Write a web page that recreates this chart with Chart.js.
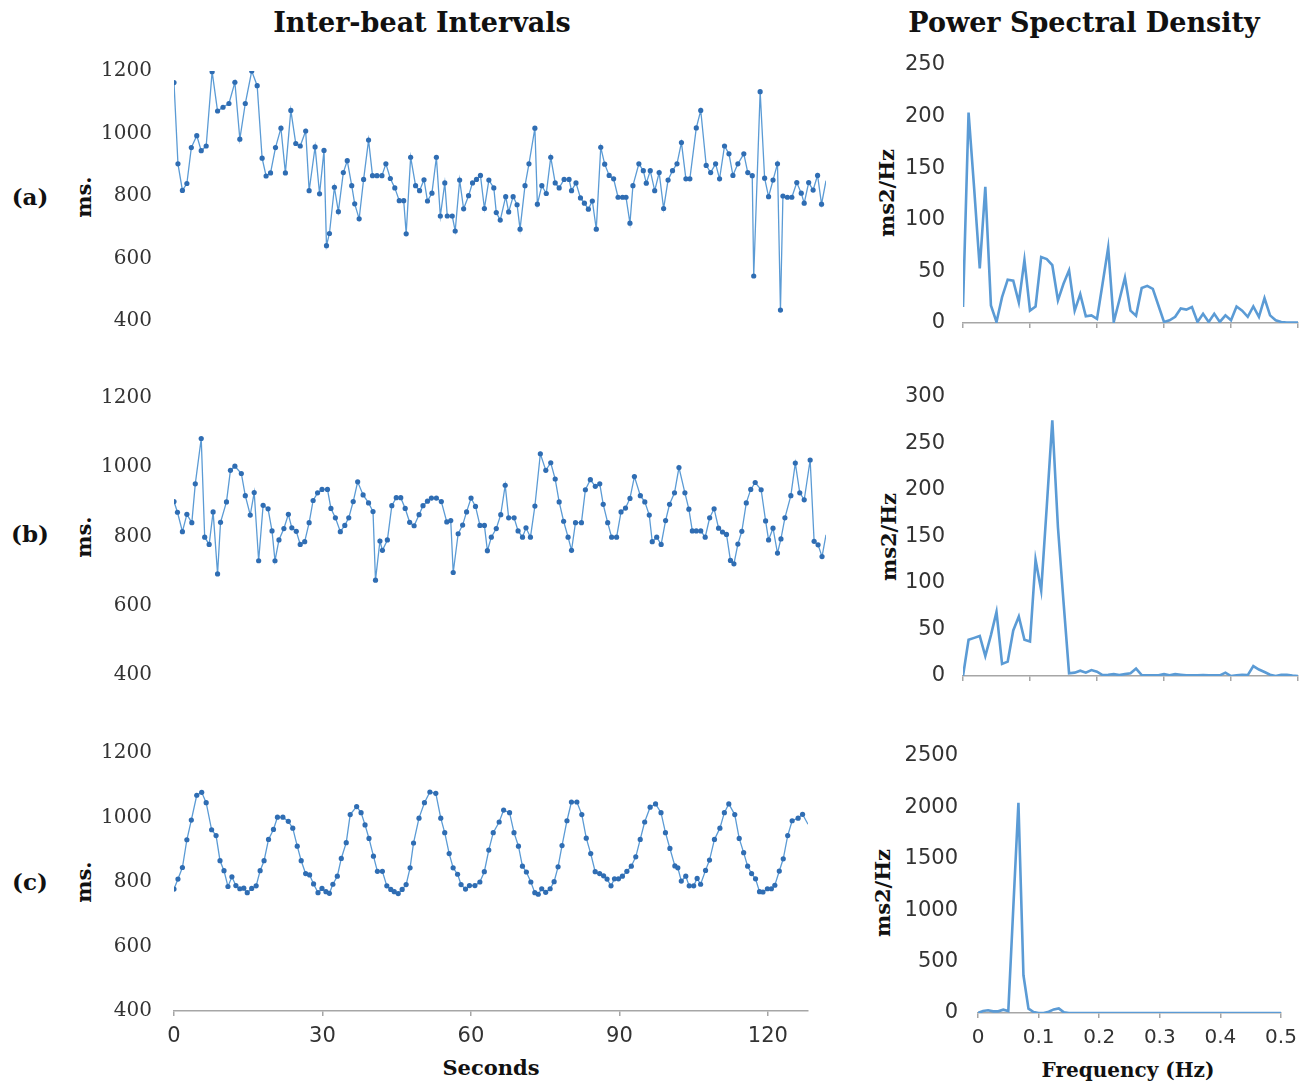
<!DOCTYPE html>
<html>
<head>
<meta charset="utf-8">
<script src="https://cdn.jsdelivr.net/npm/chart.js@4.4.1/dist/chart.umd.min.js"></script>
<style>
  body { margin: 0; background: #fff; width: 1316px; height: 1082px; position: relative; overflow: hidden; }
  canvas { position: absolute; }
  .lbl { position: absolute; font-family: "DejaVu Serif", serif; font-weight: bold; color: #111;
         white-space: nowrap; transform: translate(-50%, -50%); line-height: 1; }
  .rot { transform: translate(-50%, -50%) rotate(-90deg); }
</style>
</head>
<body>
<div class="lbl" style="left:422px;top:22px;font-size:27px">Inter-beat Intervals</div>
<div class="lbl" style="left:1084px;top:22px;font-size:27px">Power Spectral Density</div>

<div class="lbl" style="left:30px;top:196px;font-size:23px">(a)</div>
<div class="lbl" style="left:30px;top:533px;font-size:23px">(b)</div>
<div class="lbl" style="left:30px;top:881px;font-size:23px">(c)</div>

<div class="lbl rot" style="left:83px;top:197px;font-size:21px">ms.</div>
<div class="lbl rot" style="left:83px;top:537px;font-size:21px">ms.</div>
<div class="lbl rot" style="left:83px;top:882px;font-size:21px">ms.</div>

<div class="lbl rot" style="left:886px;top:193px;font-size:21px">ms2/Hz</div>
<div class="lbl rot" style="left:888px;top:537px;font-size:21px">ms2/Hz</div>
<div class="lbl rot" style="left:882px;top:893px;font-size:21px">ms2/Hz</div>

<div class="lbl" style="left:491px;top:1067px;font-size:21px">Seconds</div>
<div class="lbl" style="left:1128px;top:1070px;font-size:20px">Frequency (Hz)</div>

<canvas id="ibiA"></canvas>
<canvas id="ibiB"></canvas>
<canvas id="ibiC"></canvas>
<canvas id="psdA"></canvas>
<canvas id="psdB"></canvas>
<canvas id="psdC"></canvas>

<script>
// ---- data ----
const secondsTicks = [0, 30, 60, 90, 120];
const ibiTicks = [400, 600, 800, 1000, 1200];
const freqTicks = [0, 0.1, 0.2, 0.3, 0.4, 0.5];
const psdTicksA = [0, 50, 100, 150, 200, 250];
const psdTicksB = [0, 50, 100, 150, 200, 250, 300];
const psdTicksC = [0, 500, 1000, 1500, 2000, 2500];

const ibiTimeA = [
  0.0, 0.8, 1.7, 2.6, 3.5, 4.6, 5.5, 6.5, 7.7, 8.8,
  9.9, 11.1, 12.3, 13.3, 14.4, 15.7, 16.8, 17.8, 18.6, 19.5,
  20.5, 21.6, 22.5, 23.6, 24.6, 25.5, 26.6, 27.3, 28.5, 29.4,
  30.3, 30.8, 31.4, 32.4, 33.2, 34.2, 35.0, 35.9, 36.5, 37.4,
  38.3, 39.3, 40.1, 41.0, 42.0, 42.8, 43.7, 44.6, 45.5, 46.4,
  46.9, 47.8, 48.8, 49.6, 50.5, 51.2, 52.1, 53.0, 53.8, 54.7,
  55.2, 56.2, 56.8, 57.7, 58.5, 59.5, 60.3, 61.1, 61.9, 62.7,
  63.6, 64.6, 65.1, 65.9, 67.0, 67.6, 68.5, 69.3, 69.9, 70.9,
  71.7, 72.9, 73.4, 74.3, 75.2, 76.1, 77.0, 77.8, 78.8, 79.8,
  80.3, 81.2, 82.1, 82.9, 83.7, 84.5, 85.3, 86.2, 87.0, 87.9,
  88.8, 89.7, 90.6, 91.3, 92.1, 92.7, 93.9, 94.8, 95.4, 96.2,
  97.1, 98.0, 98.9, 99.8, 100.7, 101.6, 102.5, 103.4, 104.2, 105.5,
  106.4, 107.5, 108.4, 109.4, 110.2, 111.2, 112.1, 112.9, 113.9, 115.1,
  115.9, 116.8, 117.1, 118.4, 119.3, 120.1, 121.0, 121.9, 122.5, 123.0,
  123.9, 124.8, 125.8, 126.7, 127.3, 128.2, 129.1, 130.0, 130.8, 131.7
];
const ibiA = [
  1163, 903, 818, 840, 955, 993, 945, 960, 1198, 1072,
  1084, 1096, 1164, 982, 1096, 1200, 1153, 921, 864, 874,
  955, 1017, 874, 1074, 968, 960, 1008, 817, 957, 807,
  946, 641, 680, 828, 750, 875, 913, 833, 775, 727,
  853, 979, 865, 865, 865, 903, 856, 826, 785, 785,
  679, 924, 833, 817, 852, 784, 809, 924, 736, 842,
  736, 736, 688, 851, 759, 801, 842, 853, 866, 760,
  851, 826, 747, 723, 798, 749, 798, 772, 694, 833,
  903, 1017, 774, 833, 808, 924, 842, 826, 853, 853,
  817, 842, 794, 777, 758, 784, 694, 956, 902, 866,
  855, 796, 796, 796, 713, 833, 903, 881, 841, 881,
  817, 875, 760, 851, 881, 903, 971, 855, 855, 1018,
  1074, 898, 875, 903, 855, 960, 935, 866, 903, 935,
  875, 865, 544, 1134, 857, 798, 851, 903, 435, 800,
  796, 796, 843, 809, 777, 843, 819, 866, 774, 849
];

const ibiTimeB = [
  0.0, 0.7, 1.7, 2.6, 3.6, 4.3, 5.5, 6.2, 7.1, 7.9,
  8.8, 9.4, 10.6, 11.4, 12.3, 13.6, 14.4, 15.4, 16.2, 17.1,
  18.0, 19.0, 19.8, 20.4, 21.2, 22.2, 23.1, 23.8, 24.7, 25.5,
  26.4, 27.3, 28.1, 29.0, 29.9, 31.0, 31.7, 32.6, 33.6, 34.5,
  35.3, 36.2, 37.1, 38.2, 39.3, 40.2, 40.7, 41.6, 42.1, 43.1,
  44.0, 44.9, 45.8, 46.7, 47.6, 48.5, 49.5, 50.3, 51.2, 52.0,
  53.0, 54.0, 55.1, 55.9, 56.4, 57.4, 58.3, 59.1, 60.0, 60.9,
  61.8, 62.7, 63.3, 64.1, 65.1, 66.0, 66.9, 67.6, 68.7, 69.5,
  70.4, 71.1, 72.0, 72.9, 74.0, 75.1, 76.1, 77.0, 77.8, 78.7,
  79.6, 80.3, 81.1, 82.3, 83.1, 84.1, 85.1, 86.0, 86.7, 87.6,
  88.4, 89.4, 90.3, 91.2, 92.1, 93.0, 94.2, 95.1, 96.0, 96.6,
  97.5, 98.4, 99.3, 100.1, 101.1, 102.0, 103.2, 104.0, 104.7, 105.5,
  106.4, 107.3, 108.2, 109.1, 110.0, 110.8, 111.6, 112.4, 113.1, 113.9,
  114.7, 115.6, 116.5, 117.4, 118.6, 119.5, 120.1, 121.0, 121.9, 122.6,
  123.4, 124.6, 125.5, 126.4, 127.3, 128.5, 129.3, 130.1, 130.9, 131.7
];
const ibiB = [
  901, 870, 814, 864, 840, 952, 1083, 798, 777, 871,
  692, 841, 900, 991, 1003, 982, 918, 862, 927, 730,
  890, 880, 816, 730, 790, 823, 864, 825, 815, 777,
  785, 840, 904, 926, 936, 936, 881, 854, 814, 832,
  854, 901, 958, 920, 897, 872, 674, 787, 760, 790,
  889, 912, 912, 881, 841, 831, 863, 889, 902, 911,
  911, 901, 842, 846, 696, 808, 833, 871, 911, 887,
  832, 832, 759, 798, 823, 863, 948, 854, 854, 816,
  798, 825, 798, 888, 1039, 991, 1013, 966, 900, 844,
  798, 760, 840, 840, 935, 964, 945, 952, 893, 840,
  798, 798, 871, 882, 910, 973, 918, 900, 862, 785,
  798, 777, 846, 893, 926, 999, 926, 879, 816, 816,
  816, 798, 854, 880, 824, 813, 806, 731, 721, 778,
  815, 897, 936, 956, 935, 845, 790, 824, 752, 793,
  854, 918, 1012, 926, 906, 1021, 786, 776, 742, 805
];

const ibiTimeC = [
  0.0, 0.8, 1.7, 2.6, 3.5, 4.6, 5.6, 6.5, 7.6, 8.5,
  9.3, 10.1, 10.9, 11.7, 12.5, 13.3, 14.1, 14.8, 15.7, 16.6,
  17.4, 18.2, 19.1, 20.1, 20.9, 22.0, 23.1, 24.0, 24.9, 25.7,
  26.6, 27.4, 28.2, 29.1, 29.9, 30.7, 31.4, 32.1, 33.0, 33.8,
  34.8, 35.6, 36.9, 37.8, 38.6, 39.4, 40.3, 41.1, 42.1, 43.0,
  43.8, 44.5, 45.3, 46.1, 46.9, 47.7, 48.4, 49.5, 50.6, 51.7,
  52.9, 53.9, 54.7, 55.6, 56.4, 57.3, 58.0, 58.9, 59.7, 60.8,
  61.8, 62.7, 63.6, 64.5, 65.7, 66.6, 67.8, 68.7, 69.6, 70.4,
  71.2, 72.1, 72.9, 73.6, 74.3, 75.1, 76.0, 76.8, 77.6, 78.4,
  79.4, 80.3, 81.4, 82.4, 83.3, 84.2, 85.1, 86.0, 86.8, 87.5,
  88.3, 89.0, 89.8, 90.6, 91.5, 92.4, 93.3, 94.2, 95.1, 96.2,
  97.3, 98.4, 99.3, 100.2, 101.2, 101.8, 102.5, 103.4, 104.1, 105.0,
  105.7, 106.4, 107.4, 108.2, 109.2, 110.3, 111.2, 112.1, 113.3, 114.2,
  115.1, 115.9, 116.7, 117.5, 118.3, 119.0, 119.9, 120.7, 121.4, 122.3,
  123.1, 124.0, 124.9, 126.1, 127.0, 128.1
];
const ibiC = [
  778, 809, 845, 931, 992, 1069, 1078, 1046, 962, 944,
  866, 835, 786, 816, 789, 779, 781, 767, 780, 788,
  835, 866, 932, 963, 1001, 1001, 988, 967, 911, 866,
  826, 822, 794, 767, 780, 770, 765, 793, 818, 873,
  922, 1009, 1034, 1015, 977, 935, 880, 833, 833, 788,
  777, 770, 764, 777, 792, 844, 921, 998, 1046, 1079,
  1075, 998, 953, 888, 844, 824, 792, 778, 789, 789,
  800, 832, 899, 953, 986, 1023, 1015, 953, 911, 849,
  831, 800, 767, 762, 779, 768, 779, 801, 847, 913,
  990, 1048, 1048, 1009, 936, 888, 832, 826, 819, 809,
  788, 810, 810, 818, 833, 849, 878, 932, 986, 1032,
  1042, 1015, 953, 904, 850, 844, 803, 818, 788, 788,
  811, 793, 836, 868, 932, 967, 1015, 1042, 1009, 935,
  891, 849, 826, 810, 770, 769, 779, 779, 790, 834,
  872, 944, 990, 998, 1010, 979
];

const psdFreq = [
  0, 0.0083, 0.0167, 0.025, 0.0333, 0.0417, 0.05, 0.0583, 0.0667, 0.075,
  0.0833, 0.0917, 0.1, 0.1083, 0.1167, 0.125, 0.1333, 0.1417, 0.15, 0.1583,
  0.1667, 0.175, 0.1833, 0.1917, 0.2, 0.2083, 0.2167, 0.225, 0.2333, 0.2417,
  0.25, 0.2583, 0.2667, 0.275, 0.2833, 0.2917, 0.3, 0.3083, 0.3167, 0.325,
  0.3333, 0.3417, 0.35, 0.3583, 0.3667, 0.375, 0.3833, 0.3917, 0.4, 0.4083,
  0.4167, 0.425, 0.4333, 0.4417, 0.45, 0.4583, 0.4667, 0.475, 0.4833, 0.4917,
  0.5
];
const psdA = [
  15.5, 204, 130, 53, 132, 17, 1, 25, 42, 41,
  20, 61, 12, 16, 64, 62, 56, 22, 38, 51,
  12, 28, 6.5, 7.4, 4, 38, 73, 1, 22, 44,
  12, 7, 34, 36, 33, 17, 1, 2.6, 6, 14,
  13, 15.5, 1, 9, 1, 9, 1, 7.4, 2.6, 16,
  12, 6, 16, 6, 24, 7.4, 2.6, 1, 0.5, 0.5,
  0.5
];
const psdB = [
  0, 39, 41, 43, 21.5, 44, 69, 13, 15.4, 49,
  64, 39, 37, 125, 92, 182, 275, 160, 80, 3,
  3.6, 5.7, 3.6, 6.4, 4.7, 1, 1.4, 2, 1, 2,
  2.9, 8, 1, 0.7, 0.7, 0.7, 2, 0.7, 2, 1.4,
  0.7, 0.7, 0.7, 1, 0.7, 0.7, 0.7, 3.6, 0, 0.7,
  1.4, 1, 10.7, 7, 4.3, 1.4, 0, 1.4, 1.4, 0.5,
  0
];
const psdC = [
  0, 19, 26, 16, 16, 32, 19, 1030, 2045, 367,
  42, 10, 0, 0, 12, 35, 45, 6, 0, 0,
  0, 0, 0, 0, 0, 0, 0, 0, 0, 0,
  0, 0, 0, 0, 0, 0, 0, 0, 0, 0,
  0, 0, 0, 0, 0, 0, 0, 0, 0, 0,
  0, 0, 0, 0, 0, 0, 0, 0, 0, 0,
  0
];

// ---- styling ----
const AXIS_GREY = '#a6a6a6';
const TICK_TEXT = '#333333';
const LINE_BLUE = '#5b9bd5';
const DOT_BLUE = '#2f6db3';

function xAxis(min, max, ticks, opts) {
  return {
    type: 'linear', min: min, max: max,
    display: opts.show,
    afterBuildTicks: a => { a.ticks = ticks.map(v => ({ value: v })); },
    afterFit: a => { a.height = opts.height; },
    border: { display: true, color: AXIS_GREY, width: 1.5 },
    grid: { display: true, drawOnChartArea: false, drawTicks: true, tickLength: 5, color: AXIS_GREY, lineWidth: 1.5 },
    ticks: {
      padding: 8, maxRotation: 0, autoSkip: false, color: TICK_TEXT,
      font: { family: opts.family || 'DejaVu Sans', size: opts.size || 21 },
      callback: v => opts.labels ? String(Math.round(v * 10) / 10) : ''
    }
  };
}

function yAxis(ticks, width, pad, family, size) {
  return {
    type: 'linear', min: ticks[0], max: ticks[ticks.length - 1],
    afterBuildTicks: a => { a.ticks = ticks.map(v => ({ value: v })); },
    afterFit: a => { a.width = width; },
    border: { display: false },
    grid: { display: false, drawTicks: false },
    ticks: { padding: pad, color: TICK_TEXT, font: { family: family, size: size }, callback: v => String(v) }
  };
}

// area = plot rectangle on the page; the canvas is grown round it for the axes.
// top/bottom padding must exceed the y-axis label overhang (half label + tick padding)
function panel(id, area, xScale, yScale, dataset, xH) {
  const yW = 80, padT = 45, padR = 30, padB = 45;
  const cv = document.getElementById(id);
  const w = (area.r - area.l) + yW + padR;
  const h = (area.b - area.t) + padT + xH + padB;
  cv.width = w; cv.height = h;
  cv.style.width = w + 'px'; cv.style.height = h + 'px';
  cv.style.left = (area.l - yW) + 'px';
  cv.style.top = (area.t - padT) + 'px';
  return new Chart(cv, {
    type: 'line',
    data: { datasets: [dataset] },
    options: {
      responsive: false, animation: false,
      layout: { padding: { top: padT, right: padR, bottom: padB, left: 0 } },
      plugins: { legend: { display: false }, tooltip: { enabled: false } },
      scales: { x: xScale, y: yScale }
    }
  });
}

function ibiSet(times, vals) {
  return {
    data: times.map((t, i) => ({ x: t, y: vals[i] })),
    borderColor: LINE_BLUE, borderWidth: 1.3, tension: 0,
    pointRadius: ctx => ctx.dataIndex === times.length - 1 ? 0 : 2.6,
    pointBackgroundColor: DOT_BLUE, pointBorderWidth: 0
  };
}

function psdSet(vals) {
  return {
    data: psdFreq.map((f, i) => ({ x: f, y: vals[i] })),
    borderColor: LINE_BLUE, borderWidth: 2.6, tension: 0, pointRadius: 0
  };
}

const ibiY = () => yAxis(ibiTicks, 80, 22, 'DejaVu Serif', 20);
const psdY = (t, pad) => yAxis(t, 80, pad, 'DejaVu Sans', 21);

panel('ibiA', { l: 174, r: 826, t: 71, b: 321 },
  xAxis(0, 131.7, secondsTicks, { show: false, height: 0 }), ibiY(), ibiSet(ibiTimeA, ibiA), 0);
panel('ibiB', { l: 174, r: 826, t: 398, b: 675 },
  xAxis(0, 131.7, secondsTicks, { show: false, height: 0 }), ibiY(), ibiSet(ibiTimeB, ibiB), 0);
panel('ibiC', { l: 174, r: 808, t: 753, b: 1011 },
  xAxis(0, 128.1, secondsTicks, { show: true, height: 45, labels: true }), ibiY(), ibiSet(ibiTimeC, ibiC), 45);

panel('psdA', { l: 963, r: 1298, t: 65, b: 323 },
  xAxis(0, 0.5, freqTicks, { show: true, height: 10, labels: false }), psdY(psdTicksA, 18), psdSet(psdA), 10);
panel('psdB', { l: 963, r: 1298, t: 397, b: 676 },
  xAxis(0, 0.5, freqTicks, { show: true, height: 10, labels: false }), psdY(psdTicksB, 18), psdSet(psdB), 10);
panel('psdC', { l: 978, r: 1281, t: 756, b: 1013 },
  xAxis(0, 0.5, freqTicks, { show: true, height: 45, labels: true, size: 20 }), psdY(psdTicksC, 20), psdSet(psdC), 45);
</script>
</body>
</html>
